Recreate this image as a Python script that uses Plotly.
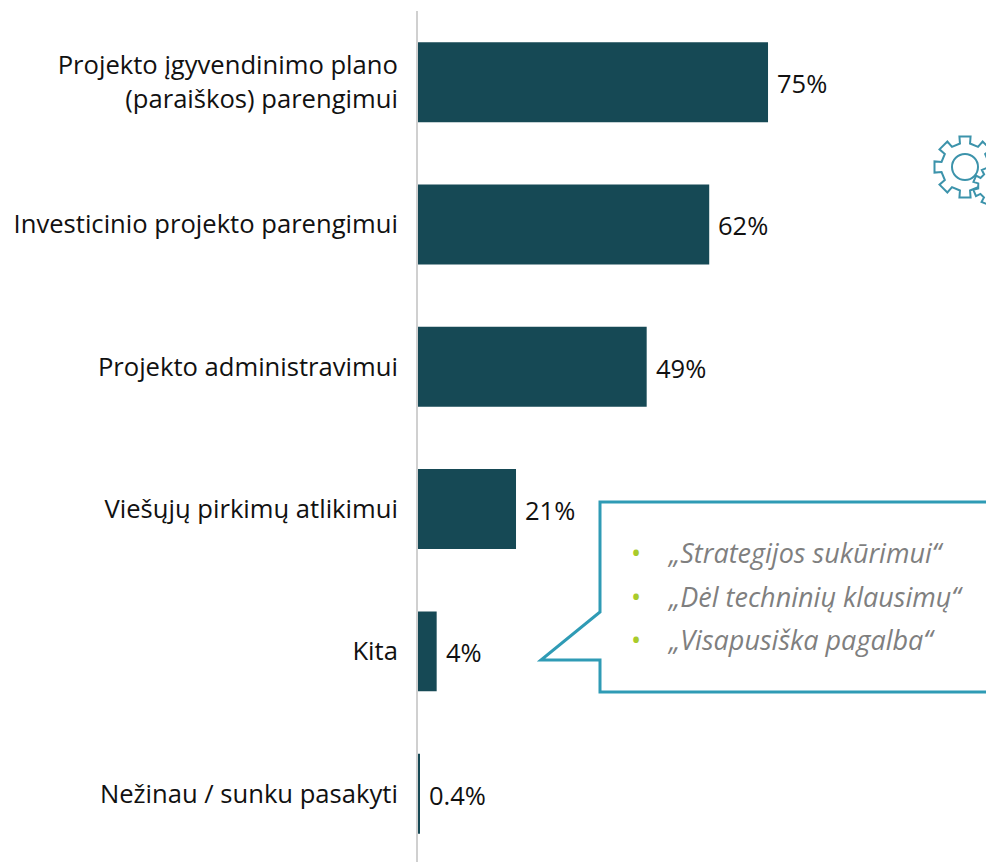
import math
import plotly.graph_objects as go

categories = ["Projekto įgyvendinimo plano<br>(paraiškos) parengimui", "Investicinio projekto parengimui",
              "Projekto administravimui", "Viešųjų pirkimų atlikimui", "Kita", "Nežinau / sunku pasakyti"]
values = [75, 62.4, 49, 21, 4, 0.4]
value_labels = ["75%", "62%", "49%", "21%", "4%", "0.4%"]
quotes = ["„Strategijos sukūrimui“", "„Dėl techninių klausimų“", "„Visapusiška pagalba“"]

W, H = 986, 862
FONT = "Open Sans"
TEAL = "#164955"
LINE = "#2F9BB5"
def px(x): return x / W
def py(y): return 1 - y / H
def path(points, close=True):
    s = "M " + " L ".join(f"{px(x):.5f},{py(y):.5f}" for x, y in points)
    return s + (" Z" if close else "")
def gear(cx, cy, r_out, r_in, teeth, rot=0.0):
    pts = []
    step = 2 * math.pi / teeth
    for i in range(teeth):
        a = rot + i * step
        for da, r in ((-0.27, r_in), (-0.23, r_out), (0.23, r_out), (0.27, r_in)):
            t = a + da * step
            pts.append((cx + r * math.cos(t), cy + r * math.sin(t)))
    return path(pts)

fig = go.Figure(go.Bar(
    y=categories, x=values, orientation="h", width=0.562,
    marker=dict(color=TEAL, line_width=0), hoverinfo="skip",
))
shapes = [
    dict(type="path", xref="paper", yref="paper", layer="above",
         path=gear(965, 167, 31, 24, 8, 0), line=dict(color="#3C93AB", width=2), fillcolor="white"),
    dict(type="circle", xref="paper", yref="paper", layer="above", x0=px(952), x1=px(978), y0=py(180), y1=py(154),
         line=dict(color="#3C93AB", width=2)),
    dict(type="path", xref="paper", yref="paper", layer="above",
         path=gear(992, 186, 19, 14, 8, 0.4), line=dict(color="#3C93AB", width=2), fillcolor="white"),
    dict(type="path", xref="paper", yref="paper", layer="above",
         path=path([(600, 502), (992, 502), (992, 692), (600, 692), (600, 660), (541, 660), (600, 612)]),
         line=dict(color=LINE, width=3), fillcolor="white"),
]
annotations = []
for c, v, t in zip(categories, values, value_labels):
    annotations.append(dict(x=v, y=c, xref="x", yref="y", text=t, showarrow=False, xanchor="left", yanchor="middle",
                            xshift=7, yshift=-1, font=dict(family=FONT, size=25.5, color="#111111")))
for q, y in zip(quotes, (552, 596, 639)):
    annotations.append(dict(x=px(636), y=py(y), xref="paper", yref="paper", text="•", showarrow=False,
                            xanchor="center", yanchor="middle", font=dict(family=FONT, size=27, color="#A9CB2B")))
    annotations.append(dict(x=px(665), y=py(y), xref="paper", yref="paper", text=f"<i>{q}</i>", showarrow=False,
                            xanchor="left", yanchor="middle", font=dict(family=FONT, size=27, color="#7F7F7F")))
fig.update_layout(
    width=W, height=H, margin=dict(l=0, r=0, t=0, b=0), autosize=False,
    paper_bgcolor="white", plot_bgcolor="white", showlegend=False,
    shapes=shapes, annotations=annotations,
    xaxis=dict(domain=[418 / W, 1], range=[0, (W - 418) / 4.667], visible=False, showgrid=False, zeroline=False),
    yaxis=dict(domain=[0, 1 - 11 / H], range=[5.48, -0.5], showgrid=False, zeroline=False,
               showline=True, linecolor="#D0D0D0", linewidth=2, ticks="outside", ticklen=13,
               tickcolor="rgba(0,0,0,0)", automargin=False,
               tickfont=dict(family=FONT, size=25.6, color="#111111")),
)
fig.write_html("out.html", config={"displayModeBar": False},
               post_script="document.body.style.margin='0';document.documentElement.style.overflow='hidden';")
